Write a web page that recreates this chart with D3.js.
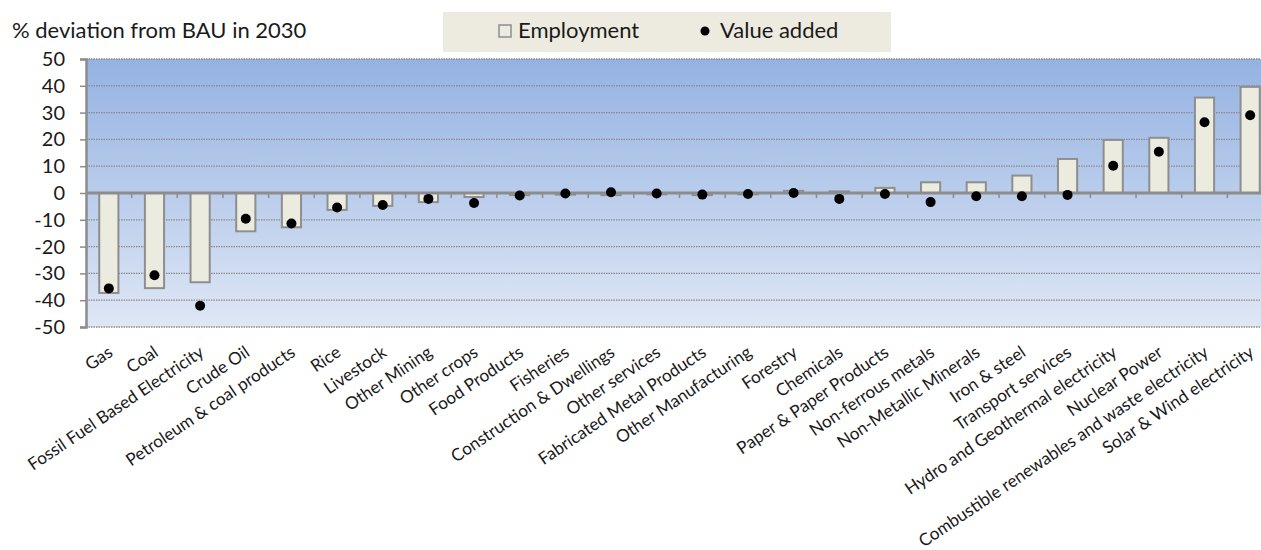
<!DOCTYPE html>
<html>
<head>
<meta charset="utf-8">
<script src="https://cdn.jsdelivr.net/npm/d3@7"></script>
<style>
  body { margin: 0; background: #fff; }
  text { font-family: Lato, "Open Sans", sans-serif; fill: #1a1a1a; }
</style>
</head>
<body>
<svg id="chart" width="1261" height="550"></svg>
<script>
// sectors, sorted by employment change
var sectors = ["Gas", "Coal", "Fossil Fuel Based Electricity", "Crude Oil", "Petroleum & coal products",
    "Rice", "Livestock", "Other Mining", "Other crops", "Food Products", "Fisheries",
    "Construction & Dwellings", "Other services", "Fabricated Metal Products", "Other Manufacturing",
    "Forestry", "Chemicals", "Paper & Paper Products", "Non-ferrous metals", "Non-Metallic Minerals",
    "Iron & steel", "Transport services", "Hydro and Geothermal electricity", "Nuclear Power",
    "Combustible renewables and waste electricity", "Solar & Wind electricity"];

// % deviation from BAU in 2030
var employment = [-37.3, -35.5, -33.3, -14.3, -12.8, -6.3, -4.8, -3.4, -1.5, -0.8, -0.6,
    -0.8, -0.5, -0.8, -0.5, 0.8, 0.6, 1.9, 4.0, 4.0, 6.5, 12.7, 19.8, 20.6, 35.6, 39.6];
var valueAdded = [-35.6, -30.7, -42.1, -9.6, -11.4, -5.4, -4.5, -2.2, -3.7, -0.9, -0.2,
    0.3, -0.2, -0.6, -0.4, 0.0, -2.2, -0.4, -3.4, -1.2, -1.2, -0.7, 10.2, 15.4, 26.4, 29.0];

var yTicks = [-50, -40, -30, -20, -10, 0, 10, 20, 30, 40, 50];
var yTitle = "% deviation from BAU in 2030";
var legendLabels = ["Employment", "Value added"];

var svg = d3.select("#chart");

// plot area runs a little past the right edge of the picture, like the original
var plotLeft = 86, plotRight = 1273, plotTop = 59, plotBottom = 327;

var x = d3.scaleBand().domain(sectors).range([plotLeft, plotRight]).paddingInner(0.58).paddingOuter(0.29);
var y = d3.scaleLinear().domain([-50, 50]).range([plotBottom, plotTop]);
var step = x.step();

// background gradient
var grad = svg.append("defs").append("linearGradient")
    .attr("id", "bg").attr("x1", 0).attr("y1", 0).attr("x2", 0).attr("y2", 1);
grad.append("stop").attr("offset", "0%").attr("stop-color", "#94b2e2");
grad.append("stop").attr("offset", "100%").attr("stop-color", "#dfe7f5");

svg.append("rect")
    .attr("x", plotLeft).attr("y", plotTop)
    .attr("width", plotRight - plotLeft).attr("height", plotBottom - plotTop)
    .attr("fill", "url(#bg)");

// dotted gridlines
svg.append("g").selectAll("line")
    .data(yTicks.filter(function(d) { return d != 0; }))
    .enter().append("line")
    .attr("x1", plotLeft).attr("x2", plotRight)
    .attr("y1", function(d) { return y(d); })
    .attr("y2", function(d) { return y(d); })
    .attr("stroke", "#8a8a8a")
    .attr("stroke-width", 1.3)
    .attr("stroke-dasharray", "1.5,1");

// y axis
var yAxis = svg.append("g")
    .attr("transform", "translate(" + plotLeft + ",0)")
    .call(d3.axisLeft(y).tickValues(yTicks).tickSize(6).tickPadding(15)
        .tickFormat(function(d) { return String(d); }));
yAxis.select(".domain").attr("stroke", "#8c8c8c").attr("stroke-width", 2.5);
yAxis.selectAll(".tick line").attr("stroke", "#8c8c8c").attr("stroke-width", 1.5);
yAxis.selectAll(".tick text")
    .style("font-family", "Lato, sans-serif").style("font-size", "20px").attr("fill", "#1a1a1a");

// employment bars
svg.append("g").selectAll("rect")
    .data(sectors)
    .enter().append("rect")
    .attr("x", function(d) { return x(d); })
    .attr("width", x.bandwidth())
    .attr("y", function(d, i) { return y(Math.max(0, employment[i])); })
    .attr("height", function(d, i) { return Math.abs(y(employment[i]) - y(0)); })
    .attr("fill", "#ecebe0")
    .attr("stroke", "#8e8e8e")
    .attr("stroke-width", 2);

// zero line with category ticks
svg.append("line")
    .attr("x1", plotLeft).attr("x2", plotRight)
    .attr("y1", y(0)).attr("y2", y(0))
    .attr("stroke", "#8c8c8c").attr("stroke-width", 3);

svg.append("g").selectAll("line")
    .data(d3.range(1, sectors.length))
    .enter().append("line")
    .attr("x1", function(k) { return plotLeft + k * step; })
    .attr("x2", function(k) { return plotLeft + k * step; })
    .attr("y1", y(0)).attr("y2", y(0) + 5)
    .attr("stroke", "#8c8c8c").attr("stroke-width", 1.5);

// value added dots
svg.append("g").selectAll("circle")
    .data(sectors)
    .enter().append("circle")
    .attr("cx", function(d) { return x(d) + x.bandwidth() / 2; })
    .attr("cy", function(d, i) { return y(valueAdded[i]); })
    .attr("r", 5)
    .attr("fill", "#000");

// rotated category labels
svg.append("g").selectAll("text")
    .data(sectors)
    .enter().append("text")
    .attr("transform", function(d) {
        return "translate(" + (x(d) + x.bandwidth() / 2 + 5) + "," + 355 + ") rotate(-34)";
    })
    .attr("text-anchor", "end")
    .style("font-size", "17.2px")
    .text(function(d) { return d; });

// title
svg.append("text")
    .attr("x", 12).attr("y", 38)
    .style("font-size", "22px")
    .text(yTitle);

// legend
var legend = svg.append("g");
legend.append("rect")
    .attr("x", 443).attr("y", 12).attr("width", 448).attr("height", 40)
    .attr("fill", "#edeae0");
legend.append("rect")
    .attr("x", 499).attr("y", 25).attr("width", 12).attr("height", 12)
    .attr("fill", "#ecebe0").attr("stroke", "#8e8e8e").attr("stroke-width", 1.5);
legend.append("text")
    .attr("x", 518).attr("y", 38)
    .style("font-size", "22px")
    .text(legendLabels[0]);
legend.append("circle")
    .attr("cx", 705).attr("cy", 31).attr("r", 4.5).attr("fill", "#000");
legend.append("text")
    .attr("x", 720).attr("y", 38)
    .style("font-size", "22px")
    .text(legendLabels[1]);
</script>
</body>
</html>
